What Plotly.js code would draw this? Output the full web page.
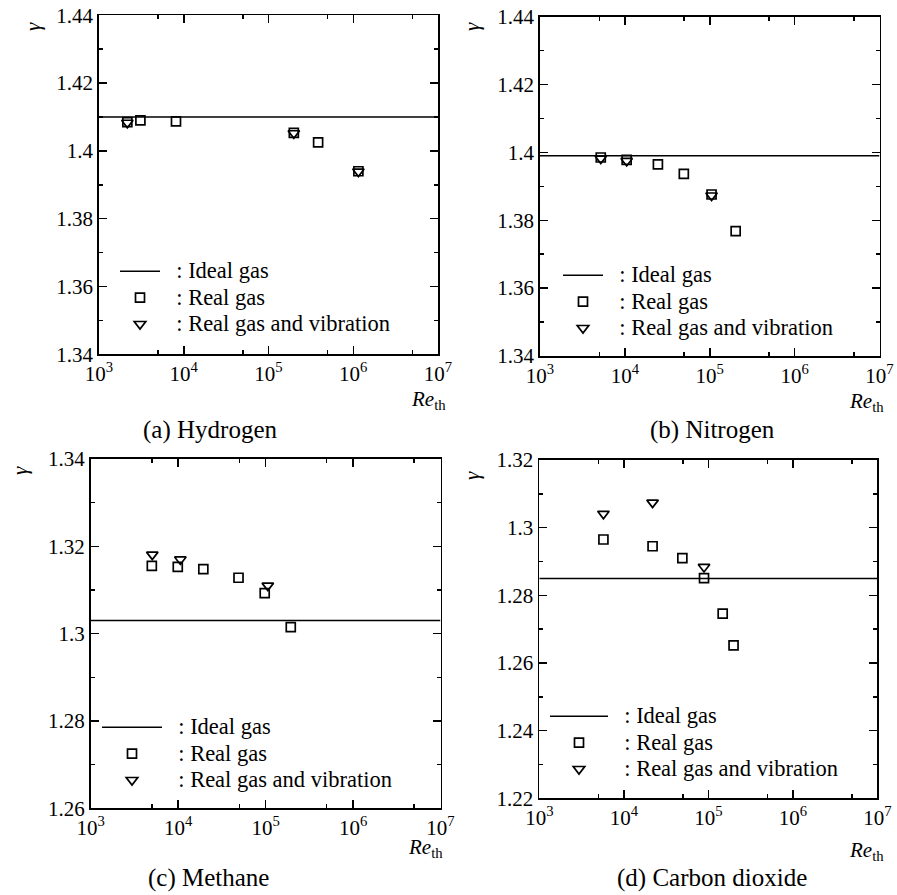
<!DOCTYPE html>
<html>
<head>
<meta charset="utf-8">
<script src="https://cdn.plot.ly/plotly-3.0.1.min.js"></script>
<style>html,body{margin:0;padding:0;background:#fff;}#chart{width:897px;height:895px;}</style>
</head>
<body>
<div id="chart"></div>
<script>
// ---------------- DATA ----------------
// (a) Hydrogen
const h2RealRe = [2160, 3080, 8100, 199000, 385000, 1150000];
const h2RealGamma = [1.4085, 1.4090, 1.4087, 1.4053, 1.4025, 1.3940];
const h2VibRe = [2160, 199000, 1150000];
const h2VibGamma = [1.4083, 1.4052, 1.3939];
const h2Ideal = 1.41;
// (b) Nitrogen
const n2RealRe = [5200, 10500, 24500, 49500, 105000, 202000];
const n2RealGamma = [1.3985, 1.3978, 1.3965, 1.3937, 1.3876, 1.3768];
const n2VibRe = [5200, 10500, 105000];
const n2VibGamma = [1.3982, 1.3975, 1.3873];
const n2Ideal = 1.399;
// (c) Methane
const ch4RealRe = [5000, 9900, 19400, 49000, 97700, 194000];
const ch4RealGamma = [1.3155, 1.3153, 1.3148, 1.3128, 1.3093, 1.3015];
const ch4VibRe = [5060, 10600, 106000];
const ch4VibGamma = [1.3181, 1.3170, 1.3110];
const ch4Ideal = 1.303;
// (d) Carbon dioxide
const co2RealRe = [5740, 21900, 49300, 89000, 148000, 199000];
const co2RealGamma = [1.2965, 1.2945, 1.2910, 1.2851, 1.2746, 1.2652];
const co2VibRe = [5740, 21900, 89000];
const co2VibGamma = [1.3041, 1.3074, 1.2884];
const co2Ideal = 1.285;
// Re_th axis (log) and its tick labels
const reRange = [1e3, 1e7];
const reTickVals = [1e3, 1e4, 1e5, 1e6, 1e7];
const reTickText = ['10<sup>3</sup>', '10<sup>4</sup>', '10<sup>5</sup>', '10<sup>6</sup>', '10<sup>7</sup>'];
const reMinorTicks = [5e3, 5e4, 5e5, 5e6];
const legendNames = [': Ideal gas', ': Real gas', ': Real gas and vibration'];
const captions = ['(a) Hydrogen', '(b) Nitrogen', '(c) Methane', '(d) Carbon dioxide'];
const gammaRanges = [[1.34, 1.44], [1.34, 1.44], [1.26, 1.34], [1.22, 1.32]];

// ---------------- LAYOUT (pixel boxes) ----------------
const W = 897, H = 895;
const FONT = 'Liberation Serif';
const fx = p => p / W;
const fy = p => 1 - p / H;

const panels = [
  {realRe: h2RealRe, realG: h2RealGamma, vibRe: h2VibRe, vibG: h2VibGamma, ideal: h2Ideal,
   box: [99, 438, 15.3, 354.3], leg: {x: 115, y: 253, iw: 40}, gam: [33, 27], re: [428, 400], cap: [210, 430]},
  {realRe: n2RealRe, realG: n2RealGamma, vibRe: n2VibRe, vibG: n2VibGamma, ideal: n2Ideal,
   box: [540, 879.5, 16.7, 356], leg: {x: 558, y: 257, iw: 40}, gam: [472, 26], re: [866, 402], cap: [712, 430]},
  {realRe: ch4RealRe, realG: ch4RealGamma, vibRe: ch4VibRe, vibG: ch4VibGamma, ideal: ch4Ideal,
   box: [90.7, 440.5, 459, 808.3], leg: {x: 97, y: 709, iw: 60}, gam: [20, 471], re: [425, 848], cap: [208, 878]},
  {realRe: co2RealRe, realG: co2RealGamma, vibRe: co2VibRe, vibG: co2VibGamma, ideal: co2Ideal,
   box: [539.3, 877.3, 460, 798.3], leg: {x: 545, y: 698, iw: 58}, gam: [472, 475], re: [866, 851], cap: [712, 878]}
];

const data = [];
const layout = {
  width: W, height: H,
  margin: {l: 0, r: 0, t: 0, b: 0},
  paper_bgcolor: '#fff', plot_bgcolor: '#fff',
  font: {family: FONT, color: '#000', size: 21},
  showlegend: true,
  annotations: []
};

panels.forEach((p, i) => {
  const n = i === 0 ? '' : String(i + 1);
  const xa = 'xaxis' + n, ya = 'yaxis' + n;
  const xr = 'x' + n, yr = 'y' + n;
  const lg = 'legend' + n;
  const nm = s => '<span style="font-size:22.5px">\u00a0\u00a0' + s + '</span>';

  data.push({
    type: 'scatter', mode: 'lines', x: reRange, y: [p.ideal, p.ideal],
    xaxis: xr, yaxis: yr, legend: lg, name: nm(legendNames[0]),
    line: {color: '#000', width: 1.5}, hoverinfo: 'skip'
  });
  data.push({
    type: 'scatter', mode: 'markers', x: p.realRe, y: p.realG,
    xaxis: xr, yaxis: yr, legend: lg, name: nm(legendNames[1]),
    marker: {symbol: 'square-open', size: 9, color: '#000', line: {width: 1.7, color: '#000'}}
  });
  data.push({
    type: 'scatter', mode: 'markers', x: p.vibRe, y: p.vibG,
    xaxis: xr, yaxis: yr, legend: lg, name: nm(legendNames[2]),
    marker: {symbol: 'triangle-down-open', size: 10, color: '#000', line: {width: 1.7, color: '#000'}}
  });

  const [x0, x1, y0, y1] = p.box;
  layout[xa] = {
    type: 'log', range: [Math.log10(reRange[0]), Math.log10(reRange[1])],
    domain: [fx(x0), fx(x1)], anchor: yr,
    tickmode: 'array', tickvals: reTickVals, ticktext: reTickText, tickangle: 0,
    showline: true, mirror: 'allticks', linecolor: '#000', linewidth: 1.8,
    ticks: 'inside', ticklen: 8, tickwidth: 1.5, tickcolor: '#000',
    showgrid: false, zeroline: false,
    tickfont: {family: FONT, size: 21, color: '#000'},
    minor: {tickmode: 'array', tickvals: reMinorTicks, ticks: 'inside', ticklen: 4, tickwidth: 1.5, tickcolor: '#000', showgrid: false}
  };
  const gr = gammaRanges[i];
  layout[ya] = {
    range: gr, domain: [fy(y1), fy(y0)], anchor: xr,
    tick0: gr[0], dtick: 0.02,
    showline: true, mirror: 'allticks', linecolor: '#000', linewidth: 1.8,
    ticks: 'inside', ticklen: 8, tickwidth: 1.5, tickcolor: '#000',
    showgrid: false, zeroline: false,
    tickfont: {family: FONT, size: 21, color: '#000'},
    minor: {dtick: 0.01, ticks: 'inside', ticklen: 4, tickwidth: 1.5, tickcolor: '#000', showgrid: false}
  };
  layout[lg] = {
    x: fx(p.leg.x), y: fy(p.leg.y), xanchor: 'left', yanchor: 'top',
    bgcolor: 'rgba(0,0,0,0)', borderwidth: 0, itemwidth: p.leg.iw,
    font: {family: FONT, size: 18, color: '#000'}, tracegroupgap: 0
  };
  layout.annotations.push({
    text: '<i>\u03b3</i>', xref: 'paper', yref: 'paper', x: fx(p.gam[0]), y: fy(p.gam[1]),
    showarrow: false, textangle: -90, font: {family: FONT, size: 21}, xanchor: 'center', yanchor: 'middle'
  });
  layout.annotations.push({
    text: '<i>Re</i><sub>th</sub>', xref: 'paper', yref: 'paper', x: fx(p.re[0]), y: fy(p.re[1]),
    showarrow: false, font: {family: FONT, size: 21}, xanchor: 'center', yanchor: 'middle'
  });
  layout.annotations.push({
    text: captions[i], xref: 'paper', yref: 'paper', x: fx(p.cap[0]), y: fy(p.cap[1]),
    showarrow: false, font: {family: FONT, size: 25}, xanchor: 'center', yanchor: 'middle'
  });
});

Plotly.newPlot('chart', data, layout, {staticPlot: true});
</script>
</body>
</html>
